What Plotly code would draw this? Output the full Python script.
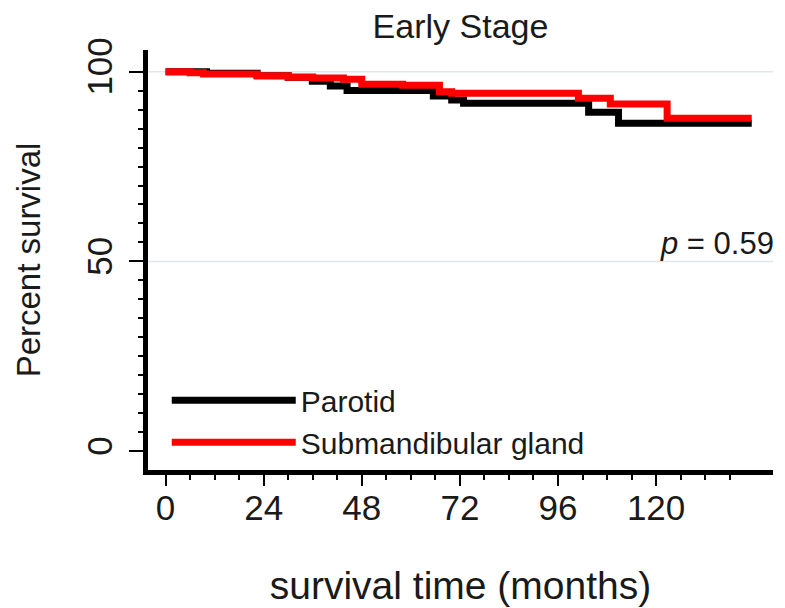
import plotly.graph_objects as go

# Kaplan-Meier step data (months, percent survival)
parotid_t = [0, 10, 22.4, 30, 35.9, 40.3, 44.4, 65.5, 70, 72.9, 103.5, 110.8, 143.4]
parotid_s = [100, 99.6, 98.9, 98.5, 97.5, 96.2, 95.0, 93.6, 92.5, 91.7, 89.3, 86.4, 86.4]

submand_t = [0, 6, 9.3, 22.4, 30, 36, 43.5, 48, 58, 67, 70, 101, 108.8, 122.7, 143.4]
submand_s = [100, 99.7, 99.4, 98.9, 98.5, 98.3, 98.0, 96.7, 96.4, 94.7, 94.3, 93.0, 91.5, 87.7, 87.7]

x_ticks = [0, 24, 48, 72, 96, 120]
x_minor = [6, 12, 18, 30, 36, 42, 54, 60, 66, 78, 84, 90, 102, 108, 114, 126, 132, 138]
y_ticks = [0, 50, 100]
y_minor = [5, 10, 15, 20, 25, 30, 35, 40, 45, 55, 60, 65, 70, 75, 80, 85, 90, 95]
grid_levels = [50, 100]

FONT = "Liberation Sans, Arial, sans-serif"
TXT = "#1a1a1a"

fig = go.Figure()
fig.add_trace(go.Scatter(x=parotid_t, y=parotid_s, mode="lines", line_shape="hv",
                         line=dict(color="black", width=7), name="Parotid"))
fig.add_trace(go.Scatter(x=submand_t, y=submand_s, mode="lines", line_shape="hv",
                         line=dict(color="#ff0000", width=7), name="Submandibular gland"))

for g in grid_levels:
    fig.add_shape(type="line", xref="paper", x0=0, x1=1, yref="y", y0=g, y1=g,
                  line=dict(color="#dde7eb", width=1.5), layer="below")

fig.add_annotation(text="<i>p</i> = 0.59", xref="paper", x=1, xanchor="right", xshift=3,
                   yref="y", y=54.7, yanchor="middle", showarrow=False,
                   font=dict(family=FONT, size=31, color=TXT))

fig.update_layout(
    width=777, height=600,
    margin=dict(l=139.5, r=12, t=42, b=137.5),
    paper_bgcolor="white", plot_bgcolor="white",
    title=dict(text="Early Stage", x=0.5, xref="paper", xanchor="center", y=1 - 18 / 600,
               yanchor="middle", yref="container", font=dict(family=FONT, size=34, color=TXT)),
    showlegend=True,
    legend=dict(x=0.03, y=0.228, xanchor="left", yanchor="top", bgcolor="rgba(0,0,0,0)",
                font=dict(family=FONT, size=30, color=TXT), itemwidth=124, tracegroupgap=0),
    xaxis=dict(range=[-4.3, 148.6], tickvals=x_ticks, showgrid=False, zeroline=False,
               automargin=False,
               showline=True, linecolor="black", linewidth=5, ticks="outside", ticklen=11,
               tickwidth=2, tickcolor="black", ticklabelstandoff=-8,
               minor=dict(tickvals=x_minor, ticks="outside", ticklen=5, tickwidth=2, tickcolor="black"),
               tickfont=dict(family=FONT, size=35, color=TXT),
               title=dict(text="survival time (months)", font=dict(family=FONT, size=39, color=TXT), standoff=47)),
    yaxis=dict(range=[-4.95, 105.7], tickvals=y_ticks, showgrid=False, zeroline=False,
               automargin=False,
               showline=True, linecolor="black", linewidth=5, ticks="outside", ticklen=14,
               tickwidth=2, tickcolor="black", tickangle=-90, ticklabelstandoff=3,
               minor=dict(tickvals=y_minor, ticks="outside", ticklen=5, tickwidth=2, tickcolor="black"),
               tickfont=dict(family=FONT, size=35, color=TXT),
               title=dict(text="Percent survival", font=dict(family=FONT, size=33, color=TXT), standoff=31)),
)

fig.write_html("out.html")
